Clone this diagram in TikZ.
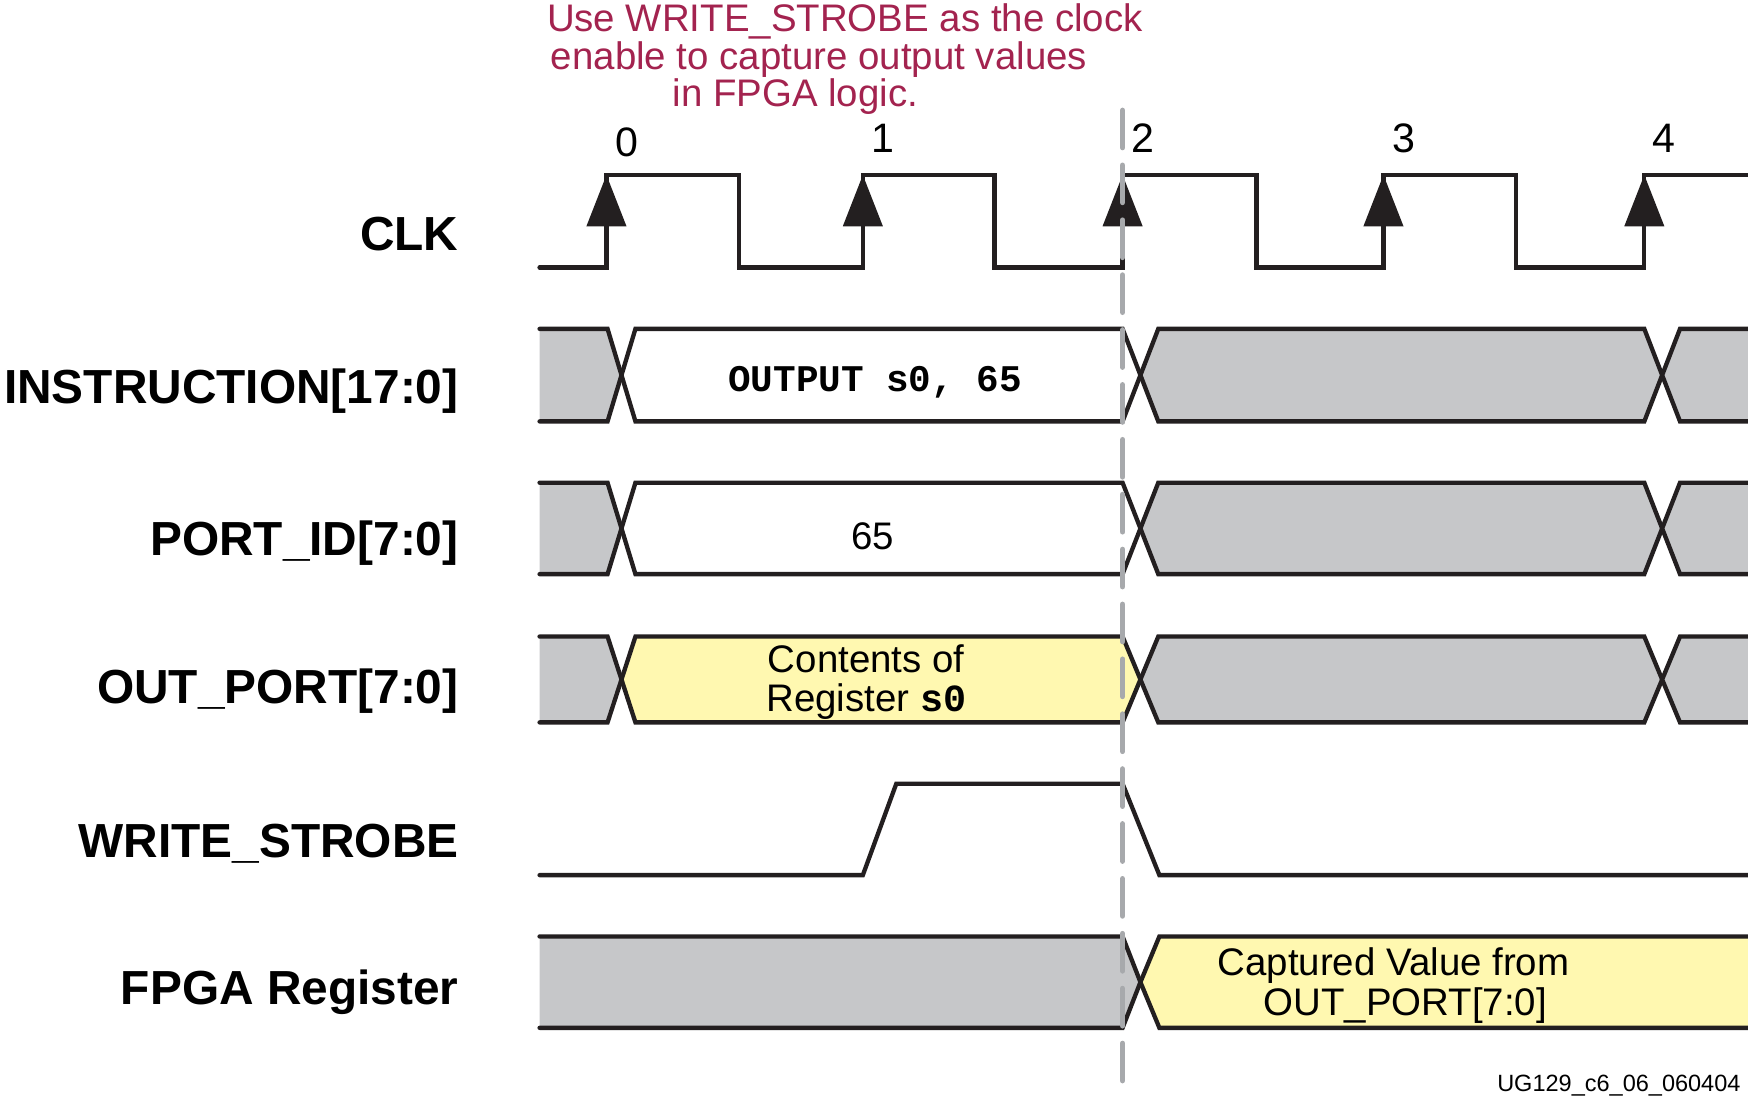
\documentclass[tikz,border=0pt]{standalone}
\usepackage{fontspec}
\setmainfont{Liberation Sans}
\setmonofont{Liberation Mono}
\usetikzlibrary{arrows.meta,positioning,calc}
\definecolor{tdInk}{HTML}{231F20}
\definecolor{tdGreyFill}{HTML}{C6C7C9}
\definecolor{tdYellowFill}{HTML}{FFF8B0}
\definecolor{tdGuide}{HTML}{A7A9AC}
\definecolor{tdNote}{HTML}{A3234F}
\tikzset{
  td/wave/.style={draw=tdInk, line width=1.1pt, line join=miter, line cap=round},
  td/grey/.style={td/wave, fill=tdGreyFill},
  td/yellow/.style={td/wave, fill=tdYellowFill},
  td/blank/.style={td/wave, fill=white},
  td/edgetip/.style={fill=tdInk},
  td/guide/.style={draw=tdGuide, line width=1.4pt, line cap=round,
    dash pattern=on 9.5pt off 4.5pt},
  td/label/.style={font=\fontsize{12.2}{14}\selectfont\bfseries, anchor=base east,
    inner sep=0pt},
  td/value/.style={font=\fontsize{9.8}{10}\selectfont, align=center, inner sep=0pt},
  td/code/.style={font=\fontsize{9.6}{10}\selectfont\ttfamily\bfseries, inner sep=0pt},
  td/tick/.style={font=\fontsize{10.5}{11}\selectfont, inner sep=0pt},
  td/note/.style={font=\fontsize{9.8}{9.5}\selectfont, text=tdNote, align=left,
    inner sep=0pt},
  td/figid/.style={font=\fontsize{6}{7}\selectfont, anchor=base east, inner sep=0pt},
}

\begin{document}
\begin{tikzpicture}[x=0.01cm, y=-0.01cm]
\useasboundingbox (0,0) rectangle (1568,984);

% signal names
\node[td/label] (lclk)   at (412,225) {CLK};
\node[td/label] (linstr) at (412,362) {INSTRUCTION[17:0]};
\node[td/label] (lport)  at (412,498) {PORT\_ID[7:0]};
\node[td/label] (lout)   at (412,631) {OUT\_PORT[7:0]};
\node[td/label] (lws)    at (412,769) {WRITE\_STROBE};
\node[td/label] (lreg)   at (412,901) {FPGA Register};

% clock
\draw[td/wave] (484,240) -- (544,240) -- (544,157) -- (663,157) -- (663,240)
  -- (774,240) -- (774,157) -- (892,157) -- (892,240) -- (1007,240)
  -- (1007,157) -- (1127,157) -- (1127,240) -- (1241,240) -- (1241,157)
  -- (1360,157) -- (1360,240) -- (1475,240) -- (1475,157) -- (1568,157);
\foreach \x/\n/\y in {544/0/128, 774/1/124, 1007/2/124, 1241/3/124, 1475/4/124} {
  \fill[td/edgetip] (\x,157) -- (\x-18,203) -- (\x+18,203) -- cycle;
  \node[td/tick] (tick\n) at (\x+18,\y) {\n};
}

% buses
\foreach \yt/\yb/\mid in {295/378/blank, 433/515/blank, 571/648/yellow} {
  \pgfmathsetmacro\ym{(\yt+\yb)/2}
  \filldraw[td/grey] (484,\yt) -- (545,\yt) -- (557.5,\ym) -- (545,\yb) -- (484,\yb);
  \filldraw[td/\mid] (570,\yt) -- (1007,\yt) -- (1023,\ym) -- (1007,\yb)
    -- (570,\yb) -- (557.5,\ym) -- cycle;
  \filldraw[td/grey] (1039,\yt) -- (1475,\yt) -- (1491,\ym) -- (1475,\yb)
    -- (1039,\yb) -- (1023,\ym) -- cycle;
  \filldraw[td/grey] (1568,\yt) -- (1507,\yt) -- (1491,\ym) -- (1507,\yb) -- (1568,\yb);
}
\node[td/code] (vinstr) at (785,343) {OUTPUT s0, 65};
\node[td/value] (vport) at (783,481) {65};
\node[td/value] (vout) at (777,612) {Contents of\\Register \texttt{\bfseries s0}};

% write strobe
\draw[td/wave] (484,785) -- (774,785) -- (804,703) -- (1007,703) -- (1040,785) -- (1568,785);

% fpga register
\filldraw[td/grey] (484,840) -- (1007,840) -- (1023,881) -- (1007,922) -- (484,922);
\filldraw[td/yellow] (1568,840) -- (1040,840) -- (1023,881) -- (1040,922) -- (1568,922);
\node[td/value] (vreg) at (1250,884) {Captured Value from\\\hspace{6pt}OUT\_PORT[7:0]};

% capture edge
\coordinate (gtop) at (1007,99);
\coordinate (gbot) at (1007,984);
\draw[td/guide] (gtop) -- (gbot);

\node[td/note, anchor=north west] (note) at (490,3)
  {Use WRITE\_STROBE as the clock\\
   \hspace{1pt}enable to capture output values\\
   \hspace{32pt}in FPGA logic.};
\node[td/figid] (figid) at (1562,979) {UG129\_c6\_06\_060404};
\end{tikzpicture}
\end{document}
